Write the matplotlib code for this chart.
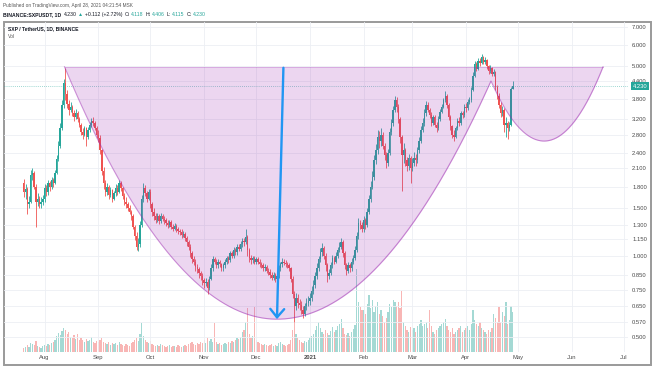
import datetime as dt
import numpy as np
import matplotlib
matplotlib.use("Agg")
import matplotlib.pyplot as plt
import matplotlib.dates as mdates
import matplotlib.transforms as mtransforms
from matplotlib.patches import Rectangle
from matplotlib.ticker import NullLocator

plt.rcParams['font.family'] = ['Liberation Sans', 'DejaVu Sans']

# SXP / TetherUS daily candles, Jul 20 2020 .. Apr 28 2021
start_day = dt.date(2020, 7, 20)
first_open = 1.85

close_jul = [1.72, 1.76, 1.55, 1.58, 1.98, 2.02, 1.80, 1.58, 1.62, 1.55, 1.58, 1.62]
high_jul = [1.92, 1.84, 1.79, 1.66, 2.08, 2.10, 2.06, 1.84, 1.70, 1.66, 1.64, 1.68]
low_jul = [1.64, 1.62, 1.42, 1.50, 1.56, 1.90, 1.76, 1.28, 1.52, 1.50, 1.50, 1.54]

close_aug = [1.78, 1.72, 1.85, 1.80, 1.90, 1.86, 2.02, 2.28, 2.55, 2.95, 3.60, 4.35, 3.95, 3.62, 3.45, 3.55,
             3.35, 3.25, 3.35, 3.20, 3.05, 2.85, 2.80, 2.95, 2.75, 2.90, 3.05, 3.15, 3.10, 2.95, 2.80]
high_aug = [1.84, 1.82, 1.90, 1.88, 1.96, 1.94, 2.08, 2.36, 2.64, 3.10, 3.75, 4.50, 4.95, 4.10, 3.75, 3.68,
            3.60, 3.45, 3.48, 3.42, 3.25, 3.10, 2.95, 3.02, 2.98, 2.98, 3.12, 3.22, 3.25, 3.14, 3.00]
low_aug = [1.58, 1.66, 1.68, 1.74, 1.76, 1.80, 1.84, 2.00, 2.24, 2.50, 2.90, 3.52, 3.75, 3.50, 3.30, 3.38,
           3.28, 3.15, 3.20, 3.12, 2.98, 2.80, 2.70, 2.76, 2.55, 2.70, 2.86, 2.98, 3.00, 2.90, 2.72]

close_sep = [2.72, 2.45, 2.05, 1.85, 1.72, 1.80, 1.68, 1.75, 1.62, 1.70, 1.78, 1.72, 1.85, 1.78, 1.66,
             1.58, 1.55, 1.50, 1.45, 1.40, 1.28, 1.18, 1.08, 1.10, 1.30, 1.62, 1.78, 1.70, 1.62, 1.72]
high_sep = [2.90, 2.78, 2.48, 2.12, 1.90, 1.86, 1.82, 1.80, 1.76, 1.74, 1.84, 1.82, 1.90, 1.88, 1.80,
            1.70, 1.64, 1.58, 1.54, 1.48, 1.42, 1.30, 1.22, 1.16, 1.34, 1.68, 1.85, 1.82, 1.74, 1.76]
low_sep = [2.62, 2.38, 1.98, 1.76, 1.66, 1.68, 1.62, 1.64, 1.58, 1.60, 1.66, 1.68, 1.70, 1.74, 1.62,
           1.54, 1.50, 1.46, 1.42, 1.36, 1.26, 1.14, 1.05, 1.04, 1.08, 1.28, 1.58, 1.66, 1.58, 1.60]

close_oct = [1.55, 1.45, 1.40, 1.36, 1.40, 1.34, 1.40, 1.37, 1.35, 1.32, 1.30, 1.33, 1.28, 1.26, 1.29, 1.25,
             1.23, 1.22, 1.19, 1.20, 1.16, 1.12, 1.08, 1.02, 0.97, 0.95, 0.91, 0.89, 0.86, 0.84, 0.81]
high_oct = [1.76, 1.58, 1.50, 1.44, 1.44, 1.42, 1.44, 1.43, 1.40, 1.38, 1.35, 1.36, 1.35, 1.31, 1.32, 1.31,
            1.28, 1.26, 1.25, 1.23, 1.22, 1.18, 1.14, 1.10, 1.04, 1.00, 0.97, 0.93, 0.91, 0.88, 0.86]
low_oct = [1.50, 1.40, 1.36, 1.32, 1.33, 1.31, 1.32, 1.34, 1.31, 1.29, 1.27, 1.28, 1.25, 1.23, 1.24, 1.22,
           1.20, 1.19, 1.16, 1.17, 1.13, 1.09, 1.05, 0.99, 0.94, 0.92, 0.88, 0.86, 0.83, 0.81, 0.78]

close_nov = [0.79, 0.80, 0.76, 0.82, 0.90, 0.97, 0.95, 0.92, 0.95, 0.93, 0.90, 0.92, 0.95, 0.98, 0.96,
             1.02, 1.00, 1.05, 1.03, 1.08, 1.06, 1.10, 1.13, 1.12, 1.17, 1.05, 0.98, 0.96, 0.98, 0.95]
high_nov = [0.83, 0.83, 0.82, 0.84, 0.93, 1.00, 0.99, 0.97, 0.97, 0.96, 0.94, 0.94, 0.97, 1.00, 1.00,
            1.04, 1.04, 1.08, 1.07, 1.10, 1.10, 1.13, 1.16, 1.16, 1.25, 1.19, 1.07, 1.01, 1.00, 1.00]
low_nov = [0.76, 0.77, 0.72, 0.75, 0.81, 0.88, 0.93, 0.90, 0.90, 0.91, 0.88, 0.88, 0.90, 0.93, 0.94,
           0.95, 0.98, 0.98, 1.01, 1.01, 1.04, 1.04, 1.08, 1.09, 1.10, 1.00, 0.95, 0.93, 0.94, 0.93]

close_dec = [0.97, 0.95, 0.93, 0.92, 0.90, 0.91, 0.88, 0.87, 0.85, 0.83, 0.85, 0.82, 0.84, 0.90, 0.93, 0.95,
             0.94, 0.93, 0.92, 0.90, 0.82, 0.72, 0.65, 0.70, 0.67, 0.66, 0.63, 0.61, 0.65, 0.67, 0.68]
high_dec = [0.99, 0.99, 0.97, 0.95, 0.94, 0.93, 0.92, 0.90, 0.89, 0.87, 0.87, 0.86, 0.86, 0.92, 0.95, 0.98,
            0.97, 0.96, 0.95, 0.94, 0.91, 0.84, 0.74, 0.73, 0.72, 0.69, 0.68, 0.65, 0.67, 0.70, 0.71]
low_dec = [0.93, 0.93, 0.91, 0.90, 0.88, 0.88, 0.86, 0.85, 0.83, 0.81, 0.81, 0.80, 0.80, 0.83, 0.88, 0.91,
           0.92, 0.91, 0.90, 0.88, 0.80, 0.70, 0.57, 0.63, 0.64, 0.63, 0.61, 0.59, 0.60, 0.63, 0.65]

close_jan = [0.70, 0.74, 0.78, 0.84, 0.90, 0.97, 1.03, 1.07, 1.00, 0.92, 0.84, 0.86, 0.92, 0.98, 0.95, 1.00,
             1.05, 1.08, 1.12, 1.02, 0.92, 0.88, 0.92, 0.90, 0.95, 0.98, 1.05, 1.18, 1.32, 1.30, 1.26]
high_jan = [0.73, 0.77, 0.81, 0.87, 0.94, 1.00, 1.07, 1.11, 1.09, 1.02, 0.94, 0.89, 0.95, 1.01, 1.00, 1.03,
            1.08, 1.12, 1.16, 1.14, 1.04, 0.94, 0.95, 0.94, 0.98, 1.01, 1.09, 1.22, 1.38, 1.36, 1.33]
low_jan = [0.66, 0.68, 0.72, 0.76, 0.82, 0.88, 0.95, 1.00, 0.97, 0.88, 0.80, 0.82, 0.85, 0.90, 0.93, 0.94,
           0.98, 1.03, 1.06, 0.99, 0.89, 0.85, 0.86, 0.87, 0.88, 0.93, 0.96, 1.03, 1.15, 1.25, 1.22]

close_feb = [1.35, 1.30, 1.45, 1.62, 1.80, 1.95, 2.25, 2.45, 2.75, 2.65, 2.80, 2.55, 2.35, 2.20,
             2.40, 2.85, 3.10, 3.45, 3.75, 3.55, 3.20, 2.75, 2.35, 2.45, 2.25, 2.15, 2.30, 2.10]
high_feb = [1.40, 1.38, 1.50, 1.68, 1.88, 2.05, 2.35, 2.58, 2.90, 2.88, 2.95, 2.85, 2.60, 2.42,
            2.48, 2.95, 3.20, 3.58, 3.90, 3.85, 3.62, 3.25, 2.80, 2.60, 2.50, 2.32, 2.38, 2.34]
low_feb = [1.22, 1.26, 1.28, 1.42, 1.58, 1.76, 1.90, 2.18, 2.38, 2.50, 2.55, 2.48, 2.25, 2.10,
           2.15, 2.36, 2.78, 3.02, 3.38, 3.40, 3.10, 2.60, 1.74, 2.20, 2.15, 2.05, 2.08, 1.85]

close_mar = [2.20, 2.30, 2.25, 2.45, 2.65, 2.90, 3.10, 3.35, 3.60, 3.45, 3.30, 3.10, 3.25, 3.05, 2.95, 3.20,
             3.40, 3.55, 3.75, 3.90, 3.60, 3.25, 3.00, 2.80, 2.75, 2.95, 3.15, 3.10, 3.35, 3.30, 3.55]
high_mar = [2.30, 2.42, 2.38, 2.52, 2.75, 3.00, 3.22, 3.48, 3.72, 3.68, 3.52, 3.38, 3.32, 3.30, 3.12, 3.28,
            3.48, 3.62, 3.82, 4.05, 3.95, 3.65, 3.30, 3.05, 2.92, 3.02, 3.22, 3.25, 3.42, 3.42, 3.62]
low_mar = [2.05, 2.15, 2.15, 2.20, 2.40, 2.60, 2.85, 3.02, 3.28, 3.38, 3.22, 3.02, 3.05, 2.98, 2.85, 2.92,
           3.15, 3.35, 3.50, 3.68, 3.52, 3.18, 2.92, 2.72, 2.65, 2.72, 2.90, 3.02, 3.05, 3.22, 3.25]

close_apr = [3.50, 3.70, 3.75, 4.10, 4.60, 5.10, 4.90, 5.25, 5.15, 5.40, 5.20, 5.30, 5.00, 4.80,
             4.95, 4.70, 4.75, 4.20, 3.90, 3.60, 3.35, 3.45, 3.05, 3.10, 2.95, 3.05, 4.118, 4.230]
high_apr = [3.65, 3.78, 3.85, 4.20, 4.75, 5.25, 5.20, 5.35, 5.35, 5.55, 5.45, 5.40, 5.32, 5.05,
            5.05, 4.98, 4.90, 4.80, 4.28, 3.98, 3.70, 3.58, 3.50, 3.25, 3.15, 3.12, 4.20, 4.406]
low_apr = [3.40, 3.45, 3.62, 3.70, 4.05, 4.55, 4.80, 4.85, 5.00, 5.10, 5.10, 5.12, 4.90, 4.70,
           4.72, 4.60, 4.62, 4.10, 3.80, 3.50, 3.25, 3.28, 2.85, 2.75, 2.70, 2.88, 3.00, 4.115]

vol_jul = [4, 5, 7, 5, 9, 8, 7, 11, 6, 5, 4, 6]
vol_aug = [7, 6, 8, 7, 9, 10, 12, 16, 19, 17, 21, 24, 22, 18, 20, 15, 14, 17, 13, 18, 12, 14, 12, 10, 13, 11,
           12, 15, 10, 9, 11]
vol_sep = [10, 12, 14, 10, 9, 8, 10, 7, 9, 8, 9, 7, 10, 8, 7, 6, 8, 7, 6, 9, 10, 12, 14, 11, 18, 29, 16, 12,
           10, 9]
vol_oct = [11, 8, 7, 6, 7, 6, 8, 7, 6, 5, 6, 7, 5, 6, 6, 5, 7, 6, 5, 6, 7, 6, 8, 9, 10, 8, 7, 9, 8, 10, 9]
vol_nov = [12, 9, 14, 11, 13, 10, 29, 10, 8, 9, 7, 8, 9, 8, 10, 9, 11, 10, 12, 14, 13, 15, 20, 22, 30, 44,
           18, 14, 16, 45]
vol_dec = [12, 10, 9, 8, 7, 8, 7, 6, 7, 8, 6, 7, 6, 9, 10, 8, 7, 6, 7, 8, 12, 22, 30, 18, 14, 12, 10, 9, 11,
           10, 12]
vol_jan = [14, 16, 18, 22, 26, 30, 24, 20, 18, 22, 19, 17, 21, 25, 20, 22, 26, 28, 33, 24, 18, 17, 19, 16,
           20, 23, 27, 83, 50, 45, 42]
vol_feb = [42, 38, 48, 57, 44, 52, 40, 46, 50, 38, 42, 36, 30, 34, 40, 48, 45, 52, 50, 46, 50, 44, 61, 30,
           26, 22, 20, 25]
vol_mar = [22, 24, 20, 26, 28, 32, 26, 28, 30, 24, 42, 26, 20, 18, 22, 24, 26, 28, 30, 33, 26, 22, 20, 24,
           18, 20, 22, 24, 26, 20, 22]
vol_apr = [24, 26, 22, 28, 42, 32, 28, 26, 30, 24, 22, 20, 18, 22, 20, 24, 38, 34, 30, 45, 30, 40, 36, 50,
           28, 32, 46, 40]

# cup & handle drawing and arrow, anchor points (date, price)
rim_price = 4.98
cup_left = dt.datetime(2020, 8, 12, 12)
cup_bottom = (dt.datetime(2020, 12, 13), 0.583)
cup_right = dt.datetime(2021, 4, 19)
handle_bottom = (dt.datetime(2021, 5, 16), 2.65)
handle_right = dt.datetime(2021, 6, 19)
arrow_top = (dt.datetime(2020, 12, 16, 17), 4.94)
arrow_tip = (dt.datetime(2020, 12, 13), 0.583)
last_price = 4.230

price_ticks = [0.5, 0.57, 0.65, 0.75, 0.85, 1.0, 1.15, 1.3, 1.5, 1.8, 2.1, 2.4, 2.8, 3.2, 3.8, 4.4, 5.0, 6.0, 7.0]
month_starts = [dt.date(2020, 8, 1), dt.date(2020, 9, 1), dt.date(2020, 10, 1), dt.date(2020, 11, 1),
                dt.date(2020, 12, 1), dt.date(2021, 1, 1), dt.date(2021, 2, 1), dt.date(2021, 3, 1),
                dt.date(2021, 4, 1), dt.date(2021, 5, 1), dt.date(2021, 6, 1), dt.date(2021, 7, 1)]
month_labels = ['Aug', 'Sep', 'Oct', 'Nov', 'Dec', '2021', 'Feb', 'Mar', 'Apr', 'May', 'Jun', 'Jul']

closes = np.array(close_jul + close_aug + close_sep + close_oct + close_nov + close_dec
                  + close_jan + close_feb + close_mar + close_apr)
highs = np.array(high_jul + high_aug + high_sep + high_oct + high_nov + high_dec
                 + high_jan + high_feb + high_mar + high_apr)
lows = np.array(low_jul + low_aug + low_sep + low_oct + low_nov + low_dec
                + low_jan + low_feb + low_mar + low_apr)
volume = np.array(vol_jul + vol_aug + vol_sep + vol_oct + vol_nov + vol_dec
                  + vol_jan + vol_feb + vol_mar + vol_apr)
assert len(closes) == len(highs) == len(lows) == len(volume) == 283

opens = np.concatenate([[first_open], closes[:-1]])
highs = np.maximum(highs, np.maximum(opens, closes))
lows = np.minimum(lows, np.minimum(opens, closes))
dates = mdates.date2num([start_day + dt.timedelta(days=i) for i in range(len(closes))])

UP, DOWN = '#26a69a', '#ef5350'
up = closes >= opens
candle_colors = np.where(up, UP, DOWN)

W, H = 654, 366
fig = plt.figure(figsize=(W / 100, H / 100), dpi=100)
fig.patch.set_facecolor('white')
pos = [4 / W, 1 - 352 / H, 624 / W, 330 / H]

ax = fig.add_axes(pos)
vax = fig.add_axes(pos, sharex=ax)
vax.set_zorder(0)
ax.set_zorder(1)
ax.patch.set_visible(False)
vax.patch.set_visible(False)

# volume
vax.bar(dates, volume, width=0.72, color=candle_colors, alpha=0.42, linewidth=0)
vax.set_ylim(0, 330)
vax.axis('off')

# candles
ax.set_yscale('log')
ax.vlines(dates, lows, highs, colors=candle_colors, linewidth=0.6, zorder=2)
ax.bar(dates, np.abs(closes - opens), bottom=np.minimum(opens, closes), width=0.8,
       color=candle_colors, linewidth=0, zorder=2)

# cup & handle shape (parabolic arcs on the log price scale)
def half_arc(d, d_v, p_v, d_e, p_e):
    f = ((d - d_v) / (d_e - d_v)) ** 2
    return np.exp(np.log(p_v) + (np.log(p_e) - np.log(p_v)) * f)

cl = mdates.date2num(cup_left)
cb = mdates.date2num(cup_bottom[0])
cr = mdates.date2num(cup_right)
hb = mdates.date2num(handle_bottom[0])
hr = mdates.date2num(handle_right)
hl = 2 * hb - hr
grid = np.linspace(cl, hr, 1500)
cup = np.where(grid <= cb, half_arc(grid, cb, cup_bottom[1], cl, rim_price),
               half_arc(grid, cb, cup_bottom[1], cr, rim_price))
cup[grid > cr] = np.inf
handle = np.where(grid <= hb, half_arc(grid, hb, handle_bottom[1], hl, rim_price),
                  half_arc(grid, hb, handle_bottom[1], hr, rim_price))
handle[grid < hl] = np.inf
edge = np.minimum(cup, handle)

ax.fill_between(grid, edge, rim_price, color='#9c27b0', alpha=0.19, linewidth=0, zorder=3)
ax.plot(grid, edge, color='#9c27b0', alpha=0.5, linewidth=0.8, zorder=4)
ax.plot([cl, hr], [rim_price, rim_price], color='#9c27b0', alpha=0.35, linewidth=0.6, zorder=4)

# arrow
ax.annotate('', xy=(mdates.date2num(arrow_tip[0]), arrow_tip[1]),
            xytext=(mdates.date2num(arrow_top[0]), arrow_top[1]),
            arrowprops=dict(arrowstyle='->,head_length=0.6,head_width=0.5', color='#2196f3',
                            lw=1.7, shrinkA=0, shrinkB=0), zorder=5)

# last price line + tag
ax.axhline(last_price, color=UP, lw=0.6, ls=(0, (1, 1.5)), alpha=0.6, zorder=1.5)
trans = mtransforms.blended_transform_factory(ax.transAxes, ax.transData)
ax.text(1 + 4.5 / 624, last_price, '4.230', transform=trans, fontsize=4.2, color='white',
        va='center', ha='left', clip_on=False, zorder=10,
        bbox=dict(boxstyle='square,pad=0.3', fc=UP, ec='none'))

# axes
x0 = mdates.date2num(dt.date(2020, 8, 1))
ax.set_xlim(x0 - 23.4, x0 + 336.4)
ax.set_ylim(0.441, 7.29)
ax.yaxis.tick_right()
ax.set_yticks(price_ticks)
ax.set_yticklabels([f'{t:.3f}' for t in price_ticks])
ax.yaxis.set_minor_locator(NullLocator())
ax.set_xticks(mdates.date2num(month_starts))
ax.set_xticklabels(month_labels)
for lab in ax.get_xticklabels():
    if lab.get_text() == '2021':
        lab.set_fontweight('bold')
ax.tick_params(axis='y', length=0, pad=3, labelsize=4.2, labelcolor='#4a4a4a')
ax.tick_params(axis='x', length=0, pad=2.5, labelsize=4.2, labelcolor='#4a4a4a')
ax.grid(True, color='#eceff4', linewidth=0.6)
ax.set_axisbelow(True)
for s in ax.spines.values():
    s.set_visible(False)

# frame around chart
fig.add_artist(Rectangle((4 / W, 1 - 365 / H), 647 / W, 343 / H, transform=fig.transFigure,
                         fill=False, edgecolor='#9a9a9a', linewidth=1.4))

# header texts
renderer = fig.canvas.get_renderer()

def put_run(x_px, y_px, pieces, size):
    for s, color, weight, gap in pieces:
        t = fig.text(x_px / W, 1 - y_px / H, s, fontsize=size, color=color, fontweight=weight,
                     ha='left', va='center')
        x_px += t.get_window_extent(renderer).width + gap

DARK = '#131722'
put_run(3, 6, [('Published on TradingView.com, April 28, 2021 04:21:54 MSK', '#555555', 'normal', 0)], 3.4)
put_run(3, 14.5, [('BINANCE:SXPUSDT, 1D', DARK, 'bold', 2.5), ('4.230', DARK, 'normal', 1.5),
                  ('▲', UP, 'normal', 1.5), ('+0.112 (+2.72%)', DARK, 'normal', 2.5),
                  ('O:', DARK, 'normal', 0.8), ('4.118', UP, 'normal', 2.5),
                  ('H:', DARK, 'normal', 0.8), ('4.406', UP, 'normal', 2.5),
                  ('L:', DARK, 'normal', 0.8), ('4.115', UP, 'normal', 2.5),
                  ('C:', DARK, 'normal', 0.8), ('4.230', UP, 'normal', 0)], 3.7)
put_run(8, 29, [('SXP / TetherUS, 1D, BINANCE', DARK, 'bold', 0)], 3.6)
put_run(8, 37, [('Vol', '#555555', 'normal', 0)], 3.6)

fig.savefig('out.png', dpi=100)
